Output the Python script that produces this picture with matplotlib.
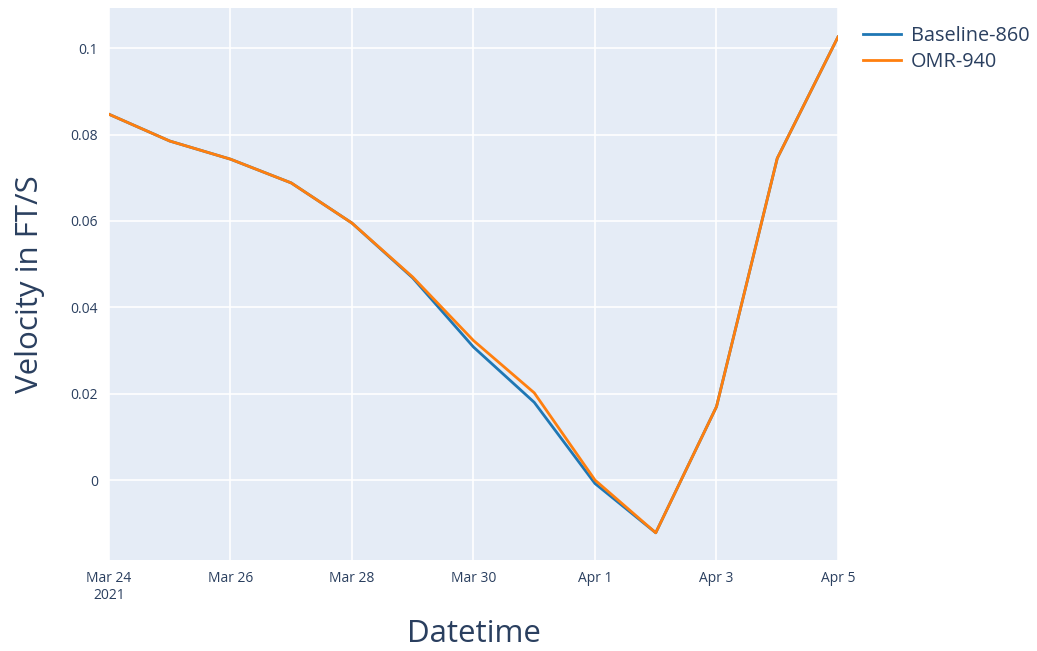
import numpy as np
import pandas as pd
import matplotlib
matplotlib.use("Agg")
import matplotlib.pyplot as plt
import matplotlib.dates as mdates

plt.rcParams['font.family'] = ['Open Sans', 'DejaVu Sans']

dates = pd.date_range("2021-03-24", "2021-04-05", freq="D")
baseline_860 = [0.0847, 0.0785, 0.0743, 0.0688, 0.0595, 0.0468, 0.0308,
                0.0180, -0.0008, -0.0122, 0.0170, 0.0745, 0.1026]
omr_940 = [0.0847, 0.0785, 0.0743, 0.0688, 0.0595, 0.0470, 0.0323,
           0.0202, 0.0000, -0.0122, 0.0170, 0.0745, 0.1026]

txt = '#2a3f5f'
fig = plt.figure(figsize=(10.37, 6.51), dpi=100)
ax = fig.add_axes([0.1051, 0.1398, 0.7030, 0.8479])
ax.set_facecolor('#e5ecf6')

ax.plot(dates, baseline_860, color='#1f77b4', lw=2, label='Baseline-860')
ax.plot(dates, omr_940, color='#ff7f0e', lw=2, label='OMR-940')

ax.set_xlim(dates[0], dates[-1])
ax.set_ylim(-0.0185, 0.1093)
ax.set_yticks([0, 0.02, 0.04, 0.06, 0.08, 0.1])
ax.set_yticklabels(['0', '0.02', '0.04', '0.06', '0.08', '0.1'])
ticks = pd.date_range("2021-03-24", "2021-04-05", freq="2D")
ax.set_xticks(ticks)
labels = ['Mar 24\n2021', 'Mar 26', 'Mar 28', 'Mar 30', 'Apr 1', 'Apr 3', 'Apr 5']
ax.set_xticklabels(labels)

ax.grid(True, color='white', lw=1.2)
ax.set_axisbelow(True)
for s in ax.spines.values():
    s.set_visible(False)
ax.tick_params(length=0, colors=txt, labelsize=10, pad=8)
ax.set_xlabel('Datetime', fontsize=22.5, color=txt, labelpad=11)
ax.set_ylabel('Velocity in FT/S', fontsize=22.5, color=txt, labelpad=18)

leg = ax.legend(loc='upper left', bbox_to_anchor=(1.01, 1.0), frameon=False,
                fontsize=14.3, handlelength=1.9, handletextpad=0.5, labelspacing=0.3)
for t in leg.get_texts():
    t.set_color(txt)

fig.savefig('out.png', dpi=100)
